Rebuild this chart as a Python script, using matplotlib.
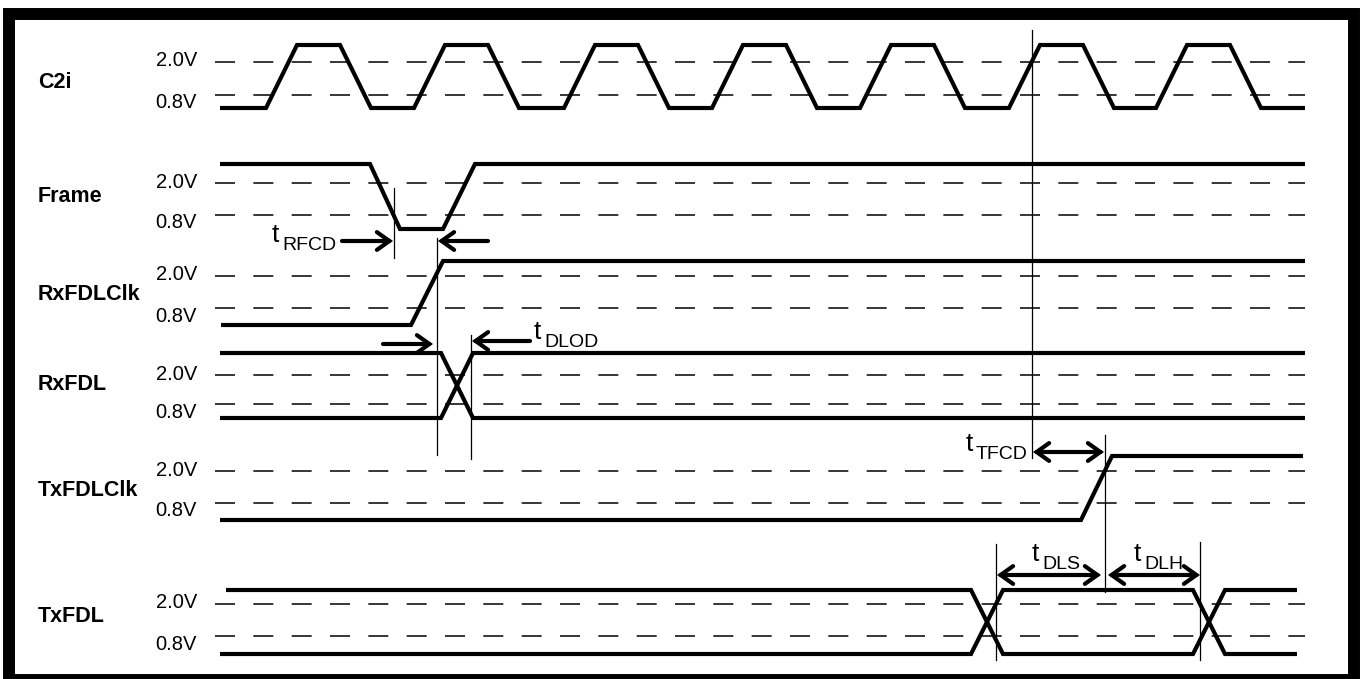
import matplotlib
matplotlib.use("Agg")
import matplotlib.pyplot as plt

plt.rcParams['font.family'] = ['Liberation Sans', 'DejaVu Sans']
plt.rcParams['lines.scale_dashes'] = False

W, H = 1361, 679

# ---------------- data ----------------
signals = ["C2i", "Frame", "RxFDLClk", "RxFDL", "TxFDLClk", "TxFDL"]
# vertical levels of each row: high, 2.0V, 0.8V, low
row_high = [45, 164, 261, 353, 456, 590]
row_v20 = [62, 183, 276, 375, 471, 604]
row_v08 = [95, 215, 308, 404, 503, 636]
row_low = [108, 229, 325, 418, 520, 654]
name_y = [83, 197, 295, 385, 490, 617]
thresholds = ["2.0V", "0.8V"]

# C2i clock: start time of each high phase
c2i_high_starts = [297, 445, 595, 743, 891, 1040, 1187]
c2i_edge = 31
c2i_high_width = 43
c2i_start, c2i_end = 220, 1305

# other waveforms: (time, level) with 1 = high, 0 = low
frame_t = [220, 370, 400, 443, 475, 1305]
frame_l = [1, 1, 0, 0, 1, 1]
rxclk_t = [221, 411, 443, 1305]
rxclk_l = [0, 0, 1, 1]
rxfdl_a_t = [220, 441, 473, 1305]
rxfdl_a_l = [1, 1, 0, 0]
rxfdl_b_t = [220, 441, 473, 1305]
rxfdl_b_l = [0, 0, 1, 1]
txclk_t = [220, 1081, 1112, 1303]
txclk_l = [0, 0, 1, 1]
txfdl_a_t = [226, 971, 1003, 1193, 1225, 1297]
txfdl_a_l = [1, 1, 0, 0, 1, 1]
txfdl_b_t = [220, 971, 1003, 1193, 1225, 1297]
txfdl_b_l = [0, 0, 1, 1, 0, 0]

# timing markers: (x, y0, y1)
markers = [(394, 188, 258), (437, 238, 455), (471, 335, 459),
           (1032, 30, 458), (1105, 435, 592), (996, 544, 660), (1200, 542, 660)]
# arrows: (x_from, x_to, y, double)
arrows = [(342, 393, 241, False), (488, 438, 241, False),
          (383, 433, 344, False), (530, 472, 341, False),
          (1033, 1104, 452, True), (997, 1101, 575, True), (1108, 1200, 575, True)]
# timing labels: (subscript, x of 't', baseline)
tlabels = [("RFCD", 272, 242), ("DLOD", 534, 339), ("TFCD", 966, 451),
           ("DLS", 1032, 561), ("DLH", 1134, 561)]

# ---------------- drawing ----------------
fig = plt.figure(figsize=(W / 100, H / 100), dpi=100)
ax = fig.add_axes([0, 0, 1, 1])
ax.set_xlim(0, W)
ax.set_ylim(H, 0)
ax.axis('off')

# frame border
ax.add_patch(plt.Rectangle((9, 14), 1345, 666, fill=False, lw=8.6,
                           edgecolor='black', joinstyle='miter', clip_on=False))

wave_kw = dict(color='black', lw=3, solid_joinstyle='miter', solid_capstyle='butt')

for i, name in enumerate(signals):
    ax.text(38, name_y[i], name, fontsize=15.5, fontweight='bold',
            ha='left', va='center')
    for yv, lab, dy in [(row_v20[i], thresholds[0], -1), (row_v08[i], thresholds[1], 8)]:
        ax.plot([215, 1305], [yv, yv], color='black', lw=1.1,
                dashes=(14.4, 13.2), dash_capstyle='butt')
        ax.text(197, yv + dy, lab, fontsize=14.5, ha='right', va='center')


def lv(row, levels):
    return [row_high[row] if v else row_low[row] for v in levels]


# C2i clock
cx = [c2i_start]
cy = [row_low[0]]
for h in c2i_high_starts:
    cx += [h - c2i_edge, h, h + c2i_high_width, h + c2i_high_width + c2i_edge]
    cy += [row_low[0], row_high[0], row_high[0], row_low[0]]
cx.append(c2i_end)
cy.append(row_low[0])
ax.plot(cx, cy, **wave_kw)

ax.plot(frame_t, lv(1, frame_l), **wave_kw)
ax.plot(rxclk_t, lv(2, rxclk_l), **wave_kw)
ax.plot(rxfdl_a_t, lv(3, rxfdl_a_l), **wave_kw)
ax.plot(rxfdl_b_t, lv(3, rxfdl_b_l), **wave_kw)
ax.plot(txclk_t, lv(4, txclk_l), **wave_kw)
ax.plot(txfdl_a_t, lv(5, txfdl_a_l), **wave_kw)
ax.plot(txfdl_b_t, lv(5, txfdl_b_l), **wave_kw)

for x, y0, y1 in markers:
    ax.plot([x, x], [y0, y1], color='black', lw=0.9)

for x0, x1, y, dbl in arrows:
    style = '<->' if dbl else '->'
    ax.annotate('', xy=(x1, y), xytext=(x0, y),
                arrowprops=dict(arrowstyle=style + ',head_length=0.45,head_width=0.32',
                                lw=3, color='black', shrinkA=0, shrinkB=0,
                                mutation_scale=20, joinstyle='miter'))

for sub, x, yb in tlabels:
    ax.text(x, yb, 't', fontsize=19, ha='left', va='baseline')
    ax.text(x + 10, yb + 8, sub, fontsize=14, ha='left', va='baseline')

fig.savefig('out.png', dpi=100)
